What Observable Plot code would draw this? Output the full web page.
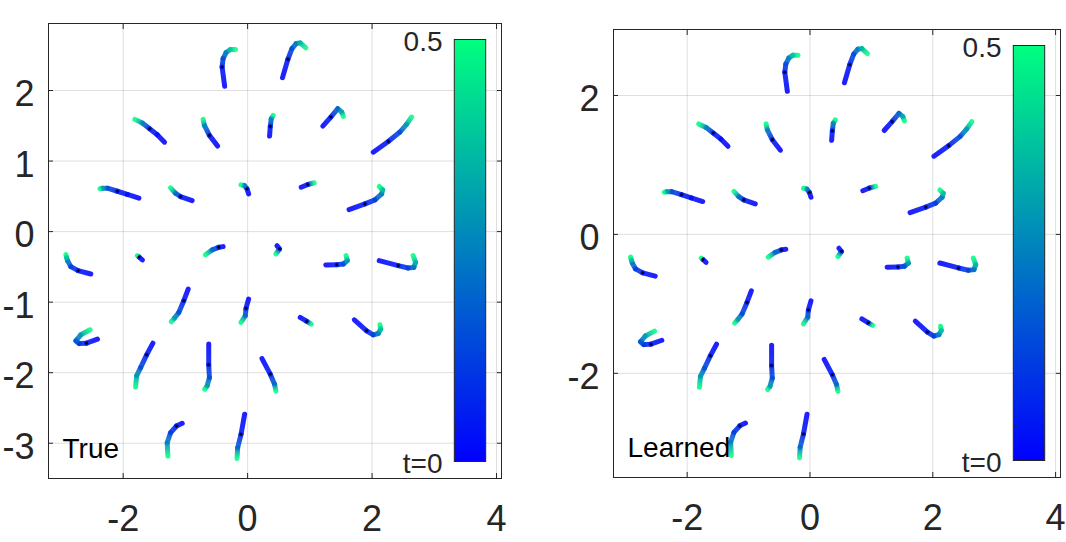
<!DOCTYPE html>
<html><head><meta charset="utf-8">
<script src="https://cdn.jsdelivr.net/npm/d3@7"></script>
<script src="https://cdn.jsdelivr.net/npm/@observablehq/plot@0.6"></script>
<style>
body{margin:0;background:#fff;}
#wrap{display:flex;width:1066px;height:542px;overflow:hidden;}
svg{display:block;font-family:"Liberation Sans",Arial,sans-serif;}
</style></head><body><div id="wrap"></div>
<script>
// ---- data ----
const xDomain = [-3.2, 4.08];
const yDomain = [-3.5, 2.95];
const xTicks = [-2, 0, 2, 4];
const yTicksTrue = [-3, -2, -1, 0, 1, 2];
const yTicksLearned = [-2, 0, 2];
const colorDomain = [0, 0.5];
const colorRange = ["#0000ff", "#00ff80"];
const colorbarLabels = ["0.5", "t=0"];
const panelLabels = ["True", "Learned"];
const markerT = 0.05; // time of the black marker on each trajectory

// each trajectory: vertices [x, y, t] from t=0 (blue) to t=0.5 (green)
const trueTracks = [
  [[-0.369, 2.060, 0], [-0.410, 2.334, 0.05], [-0.394, 2.453, 0.15], [-0.346, 2.538, 0.25], [-0.277, 2.581, 0.38], [-0.197, 2.581, 0.5]],
  [[-1.335, 1.268, 0], [-1.452, 1.373, 0.03], [-1.575, 1.459, 0.05], [-1.692, 1.538, 0.25], [-1.811, 1.591, 0.5]],
  [[-0.481, 1.212, 0], [-0.614, 1.364, 0.05], [-0.694, 1.506, 0.25], [-0.715, 1.591, 0.5]],
  [[-1.747, 0.473, 0], [-1.933, 0.526, 0.03], [-2.093, 0.572, 0.05], [-2.253, 0.615, 0.15], [-2.333, 0.615, 0.3], [-2.372, 0.607, 0.5]],
  [[-0.891, 0.440, 0], [-1.079, 0.497, 0.05], [-1.159, 0.544, 0.2], [-1.239, 0.620, 0.5]],
  [[0.016, 0.535, 0], [-0.010, 0.606, 0.05], [-0.053, 0.653, 0.25], [-0.106, 0.663, 0.5]],
  [[-2.521, -0.601, 0], [-2.724, -0.554, 0.05], [-2.841, -0.497, 0.12], [-2.894, -0.412, 0.25], [-2.910, -0.365, 0.38], [-2.921, -0.327, 0.5]],
  [[-1.692, -0.402, 0], [-1.745, -0.360, 0.05], [-1.772, -0.341, 0.5]],
  [[-0.394, -0.213, 0], [-0.465, -0.223, 0.05], [-0.571, -0.260, 0.2], [-0.678, -0.327, 0.5]],
  [[0.561, 2.183, 0], [0.647, 2.443, 0.05], [0.712, 2.595, 0.15], [0.780, 2.666, 0.25], [0.845, 2.675, 0.35], [0.936, 2.604, 0.5]],
  [[0.353, 1.354, 0], [0.364, 1.491, 0.05], [0.380, 1.600, 0.25], [0.412, 1.648, 0.5]],
  [[1.208, 1.496, 0], [1.337, 1.624, 0.05], [1.449, 1.743, 0.2], [1.513, 1.695, 0.33], [1.538, 1.634, 0.5]],
  [[2.019, 1.126, 0], [2.260, 1.278, 0.05], [2.447, 1.411, 0.15], [2.554, 1.520, 0.3], [2.635, 1.624, 0.5]],
  [[0.861, 0.629, 0], [0.968, 0.668, 0.05], [1.069, 0.692, 0.5]],
  [[1.630, 0.3125, 0], [1.886, 0.393, 0.05], [2.046, 0.450, 0.12], [2.154, 0.535, 0.25], [2.170, 0.592, 0.37], [2.115, 0.639, 0.5]],
  [[0.471, -0.199, 0], [0.513, -0.246, 0.05], [0.455, -0.317, 0.5]],
  [[1.256, -0.473, 0], [1.433, -0.469, 0.05], [1.538, -0.459, 0.15], [1.603, -0.412, 0.3], [1.582, -0.341, 0.5]],
  [[2.115, -0.412, 0], [2.420, -0.483, 0.05], [2.580, -0.516, 0.12], [2.671, -0.507, 0.22], [2.699, -0.436, 0.35], [2.660, -0.341, 0.5]],
  [[-0.955, -0.814, 0], [-1.026, -0.980, 0.05], [-1.106, -1.146, 0.15], [-1.175, -1.226, 0.3], [-1.228, -1.278, 0.5]],
  [[0.016, -0.956, 0], [-0.026, -1.089, 0.05], [-0.037, -1.193, 0.2], [-0.106, -1.288, 0.5]],
  [[-2.413, -1.524, 0], [-2.590, -1.581, 0.05], [-2.708, -1.586, 0.1], [-2.761, -1.548, 0.17], [-2.681, -1.463, 0.3], [-2.532, -1.392, 0.5]],
  [[-1.522, -1.581, 0], [-1.623, -1.747, 0.05], [-1.720, -1.928, 0.15], [-1.784, -2.045, 0.3], [-1.800, -2.202, 0.5]],
  [[-0.625, -1.595, 0], [-0.625, -1.889, 0.05], [-0.614, -2.069, 0.15], [-0.651, -2.188, 0.3], [-0.689, -2.234, 0.5]],
  [[-1.051, -2.717, 0], [-1.143, -2.756, 0.05], [-1.239, -2.851, 0.12], [-1.292, -2.993, 0.25], [-1.282, -3.182, 0.5]],
  [[-0.048, -2.590, 0], [-0.106, -2.874, 0.05], [-0.160, -3.064, 0.2], [-0.170, -3.215, 0.5]],
  [[0.231, -1.800, 0], [0.364, -2.021, 0.05], [0.433, -2.163, 0.2], [0.455, -2.259, 0.5]],
  [[0.845, -1.217, 0], [0.952, -1.274, 0.05], [1.021, -1.311, 0.5]],
  [[1.715, -1.250, 0], [1.913, -1.406, 0.05], [2.019, -1.463, 0.12], [2.099, -1.444, 0.25], [2.138, -1.382, 0.37], [2.127, -1.321, 0.5]]
];
// learned trajectories (visually coincide with the true ones)
const learnedTracks = trueTracks;

// ---- drawing ----
const color = d3.scaleLinear().domain(colorDomain).range(colorRange).interpolate(d3.interpolateRgb);
let gradId = 0;

function panel({tracks, yTicks, label, width, mL, mR, mT, mB}) {
  const segs = [];
  tracks.forEach((tr, k) => {
    for (let i = 0; i < tr.length - 1; i++) {
      segs.push({k, x1: tr[i][0], y1: tr[i][1], x2: tr[i+1][0], y2: tr[i+1][1], t1: tr[i][2], t2: tr[i+1][2]});
    }
  });
  const markers = tracks.map(tr => tr.find(p => p[2] === markerT)).filter(Boolean);
  const height = 542;
  const chart = Plot.plot({
    width, height, marginLeft: mL, marginRight: mR, marginTop: mT, marginBottom: mB,
    style: {fontFamily: '"Liberation Sans", Arial, sans-serif', background: "white"},
    x: {domain: xDomain},
    y: {domain: yDomain},
    color: {type: "linear", domain: colorDomain, range: colorRange, interpolate: "rgb"},
    marks: [
      Plot.gridX(xTicks, {stroke: "#262626", strokeOpacity: 0.15}),
      Plot.gridY(yTicks, {stroke: "#262626", strokeOpacity: 0.15}),
      Plot.link(segs, {x1: "x1", y1: "y1", x2: "x2", y2: "y2", stroke: "t1", strokeWidth: 5, strokeLinecap: "round", strokeOpacity: 0.88}),
      Plot.dot(markers, {x: d => d[0], y: d => d[1], r: 1.3, fill: "black", stroke: null}),
      Plot.frame({stroke: "#262626", strokeWidth: 1}),
      Plot.axisX(xTicks, {anchor: "bottom", tickSize: 0, tickPadding: 27, fontSize: 36, fill: "#262626", tickFormat: d => String(d), label: null}),
      Plot.axisX(xTicks, {anchor: "bottom", tickSize: -5, text: null, stroke: "#262626", label: null}),
      Plot.axisX(xTicks, {anchor: "top", tickSize: -5, text: null, stroke: "#262626", label: null}),
      Plot.axisY(yTicks, {anchor: "left", tickSize: 0, tickPadding: 14, fontSize: 36, fill: "#262626", dy: 4, tickFormat: d => String(d), label: null}),
      Plot.axisY(yTicks, {anchor: "left", tickSize: -5, text: null, stroke: "#262626", label: null}),
      Plot.axisY(yTicks, {anchor: "right", tickSize: -5, text: null, stroke: "#262626", label: null}),
      Plot.text([label], {frameAnchor: "bottom-left", dx: 14, dy: -21, text: d => d, fontSize: 28, fill: "black", textAnchor: "start", lineAnchor: "bottom"})
    ]
  });

  const sx = chart.scale("x"), sy = chart.scale("y");
  const svg = d3.select(chart.tagName.toLowerCase() === "svg" ? chart : chart.querySelector("svg"));
  const defs = svg.insert("defs", ":first-child");
  // per-segment gradients along the trajectory
  const paths = svg.selectAll('g[aria-label="link"] path').nodes();
  paths.forEach((p, i) => {
    const s = segs[i];
    if (!s) return;
    const id = "seg" + (gradId++);
    const g = defs.append("linearGradient").attr("id", id).attr("gradientUnits", "userSpaceOnUse")
      .attr("x1", sx.apply(s.x1)).attr("y1", sy.apply(s.y1))
      .attr("x2", sx.apply(s.x2)).attr("y2", sy.apply(s.y2));
    g.append("stop").attr("offset", 0).attr("stop-color", color(s.t1));
    g.append("stop").attr("offset", 1).attr("stop-color", color(s.t2));
    p.setAttribute("stroke", `url(#${id})`);
  });

  // colorbar inside the frame
  const right = width - mR, top = mT, bottom = height - mB;
  const cbId = "cb" + (gradId++);
  const cg = defs.append("linearGradient").attr("id", cbId).attr("x1", 0).attr("y1", 1).attr("x2", 0).attr("y2", 0);
  cg.append("stop").attr("offset", 0).attr("stop-color", color(colorDomain[0]));
  cg.append("stop").attr("offset", 1).attr("stop-color", color(colorDomain[1]));
  const cbx = right - 46.7, cbw = 31.4, cby = top + 16.5, cbh = (bottom - 16.5) - cby;
  svg.append("rect").attr("x", cbx).attr("y", cby).attr("width", cbw).attr("height", cbh)
    .attr("fill", `url(#${cbId})`).attr("stroke", "#262626").attr("stroke-width", 1);
  svg.append("line").attr("x1", cbx).attr("x2", cbx + 4).attr("y1", bottom - 50).attr("y2", bottom - 50).attr("stroke", "#262626");
  svg.append("text").attr("x", right - 58.5).attr("y", cby + 11.5).attr("text-anchor", "end")
    .attr("font-size", 28).attr("fill", "#262626").text(colorbarLabels[0]);
  svg.append("text").attr("x", right - 58.5).attr("y", bottom - 4.7).attr("text-anchor", "end")
    .attr("font-size", 28).attr("fill", "#262626").text(colorbarLabels[1]);
  return chart;
}

const wrap = document.getElementById("wrap");
wrap.appendChild(panel({tracks: trueTracks, yTicks: yTicksTrue, label: panelLabels[0], width: 540, mL: 48, mR: 39, mT: 23, mB: 64}));
wrap.appendChild(panel({tracks: learnedTracks, yTicks: yTicksLearned, label: panelLabels[1], width: 526, mL: 73, mR: 6, mT: 29, mB: 65}));
</script></body></html>
